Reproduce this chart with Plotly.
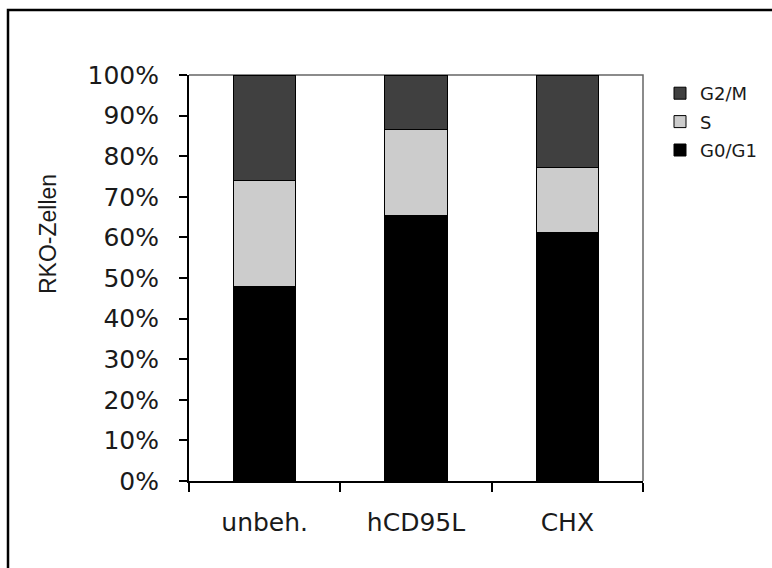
import plotly.graph_objects as go

# Cell-cycle distribution of RKO cells (percent of cells per phase)
categories = ["unbeh.", "hCD95L", "CHX"]
g0_g1 = [48.0, 65.3, 61.3]
s_phase = [26.0, 21.3, 16.0]
g2_m = [26.0, 13.4, 22.7]

W, H = 772, 568
L, R, T, B = 189, 129, 75, 87
PW, PH = W - L - R, H - T - B

fig = go.Figure()
# stacked bottom-to-top; legend lists top segment first
series = [
    ("G0/G1", g0_g1, "#000000", 3),
    ("S", s_phase, "#cccccc", 2),
    ("G2/M", g2_m, "#404040", 1),
]
for name, vals, col, rank in series:
    fig.add_trace(go.Bar(
        x=categories, y=vals, name=name, legendgroup=name, legendrank=rank,
        width=0.41,
        marker=dict(color=col, line=dict(color="#000000", width=1)),
    ))

tick_font = dict(family="DejaVu Sans", size=25, color="#1a1a1a")

fig.update_layout(
    width=W, height=H,
    margin=dict(l=L, r=R, t=T, b=B, autoexpand=False),
    barmode="stack",
    plot_bgcolor="white",
    paper_bgcolor="white",
    showlegend=True,
    legend=dict(
        x=(660 - L) / PW, y=1.0, xanchor="left", yanchor="top",
        traceorder="grouped",
        itemwidth=30,
        font=dict(family="DejaVu Sans", size=18, color="#1a1a1a"),
        tracegroupgap=2,
        bgcolor="rgba(0,0,0,0)",
    ),
    xaxis=dict(
        type="category",
        tickson="boundaries",
        ticks="outside", ticklen=9, tickwidth=1.5, tickcolor="#000000",
        showline=True, linecolor="#000000", linewidth=2,
        showgrid=False, zeroline=False,
        tickfont=tick_font,
        ticklabelstandoff=18,
    ),
    yaxis=dict(
        range=[0, 100], dtick=10, ticksuffix="%",
        ticks="outside", ticklen=8, tickwidth=1.5, tickcolor="#000000",
        showline=True, linecolor="#000000", linewidth=2,
        showgrid=False, zeroline=False,
        tickfont=tick_font,
        ticklabelstandoff=15,
    ),
    annotations=[
        dict(text="RKO-Zellen", textangle=-90, showarrow=False,
             xref="paper", yref="paper",
             x=(48 - L) / PW, y=(H - B - 234) / PH,
             xanchor="center", yanchor="middle",
             font=dict(family="Liberation Sans", size=23, color="#1a1a1a")),
    ],
    shapes=[
        # gray top and right border of the plot area
        dict(type="path", xref="paper", yref="paper",
             path="M 0 1 L 1 1 L 1 0",
             line=dict(color="#666666", width=1.5), layer="below"),
        # outer frame around the figure
        dict(type="rect", xref="paper", yref="paper",
             x0=(8 - L) / PW, x1=2,
             y0=-2, y1=(H - B - 10) / PH,
             line=dict(color="#000000", width=2.5), layer="below"),
    ],
)

fig.write_html("out.html")
